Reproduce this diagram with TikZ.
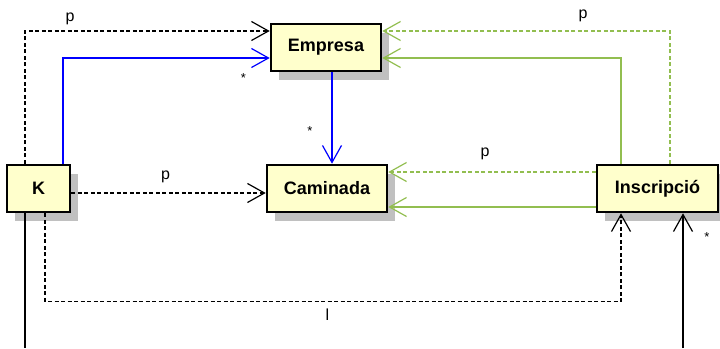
\documentclass[tikz,border=0pt]{standalone}
\usepackage{fontspec}
\setmainfont{Liberation Sans}
\usetikzlibrary{arrows.meta,shadows}
\definecolor{boxfill}{RGB}{255,255,204}
\definecolor{shade}{RGB}{192,192,192}
\definecolor{leaf}{RGB}{146,190,80}
\tikzset{
  cls/.style={draw=black, line width=2.6pt, fill=boxfill, inner sep=0pt,
    minimum height=47pt,
    font=\fontsize{18}{20}\selectfont\bfseries,
    general shadow={shadow xshift=8pt, shadow yshift=-9pt, fill=shade}},
  link/.style={line width=1.25pt},
  dep/.style={link, dash pattern=on 4pt off 2.5pt},
  arr/.style={-{Straight Barb[length=17pt,width=19pt,line width=1.2pt]}},
  lbl/.style={inner sep=0pt, font=\fontsize{16}{18}\selectfont},
  mult/.style={inner sep=0pt, font=\fontsize{13}{15}\selectfont}
}
\begin{document}
\begin{tikzpicture}[x=1pt,y=-1pt]
\useasboundingbox (0,0) rectangle (720,348);

% classes
\node[cls, minimum width=110pt] (Empresa) at (326,47.5) {Empresa};
\node[cls, minimum width=63pt] (K) at (38.5,188.5) {K};
\node[cls, minimum width=120pt] (Caminada) at (327,188.5) {Caminada};
\node[cls, minimum width=121pt] (Ins) at (657.5,188.5) {Inscripció};

% free ends at the lower edge
\coordinate (kfoot) at (25,348);
\coordinate (ifoot) at (683,348);

% K
\draw[dep, arr] ([xshift=-13.5pt]K.north) |- ([yshift=16.5pt]Empresa.west);
\draw[link, blue, arr] ([xshift=24.5pt]K.north) |- ([yshift=-10.5pt]Empresa.west);
\draw[dep, arr] ([yshift=-4.5pt]K.east) -- ([yshift=-4.5pt]Caminada.west);
\draw[dep, arr] ([xshift=6.5pt]K.south) -- ++(0,88) -| ([xshift=-36.5pt]Ins.south);
\draw[link] ([xshift=-13.5pt]K.south) -- (kfoot);

% Empresa to Caminada
\draw[link, blue, arr] ([xshift=5pt]Caminada.north |- Empresa.south) -- ([xshift=5pt]Caminada.north);

% Inscripció
\draw[dep, leaf, arr] ([xshift=12.5pt]Ins.north) |- ([yshift=16.5pt]Empresa.east);
\draw[link, leaf, arr] ([xshift=-36.5pt]Ins.north) |- ([yshift=-10.5pt]Empresa.east);
\draw[dep, leaf, arr] ([yshift=16.5pt]Ins.west) -- ([yshift=16.5pt]Caminada.east);
\draw[link, leaf, arr] ([yshift=-18.5pt]Ins.west) -- ([yshift=-18.5pt]Caminada.east);
\draw[link, arr] (ifoot) -- ([xshift=25.5pt]Ins.south);

% labels
\node[lbl] (p1) at (70,19) {p};
\node[mult] (m1) at (243.5,78) {*};
\node[mult] (m2) at (310,131) {*};
\node[lbl] (p2) at (165.5,176.5) {p};
\node[lbl] (p3) at (583,16) {p};
\node[lbl] (p4) at (485,154) {p};
\node[lbl] (l1) at (327.5,315) {l};
\node[mult] (m3) at (707,237) {*};
\end{tikzpicture}
\end{document}
